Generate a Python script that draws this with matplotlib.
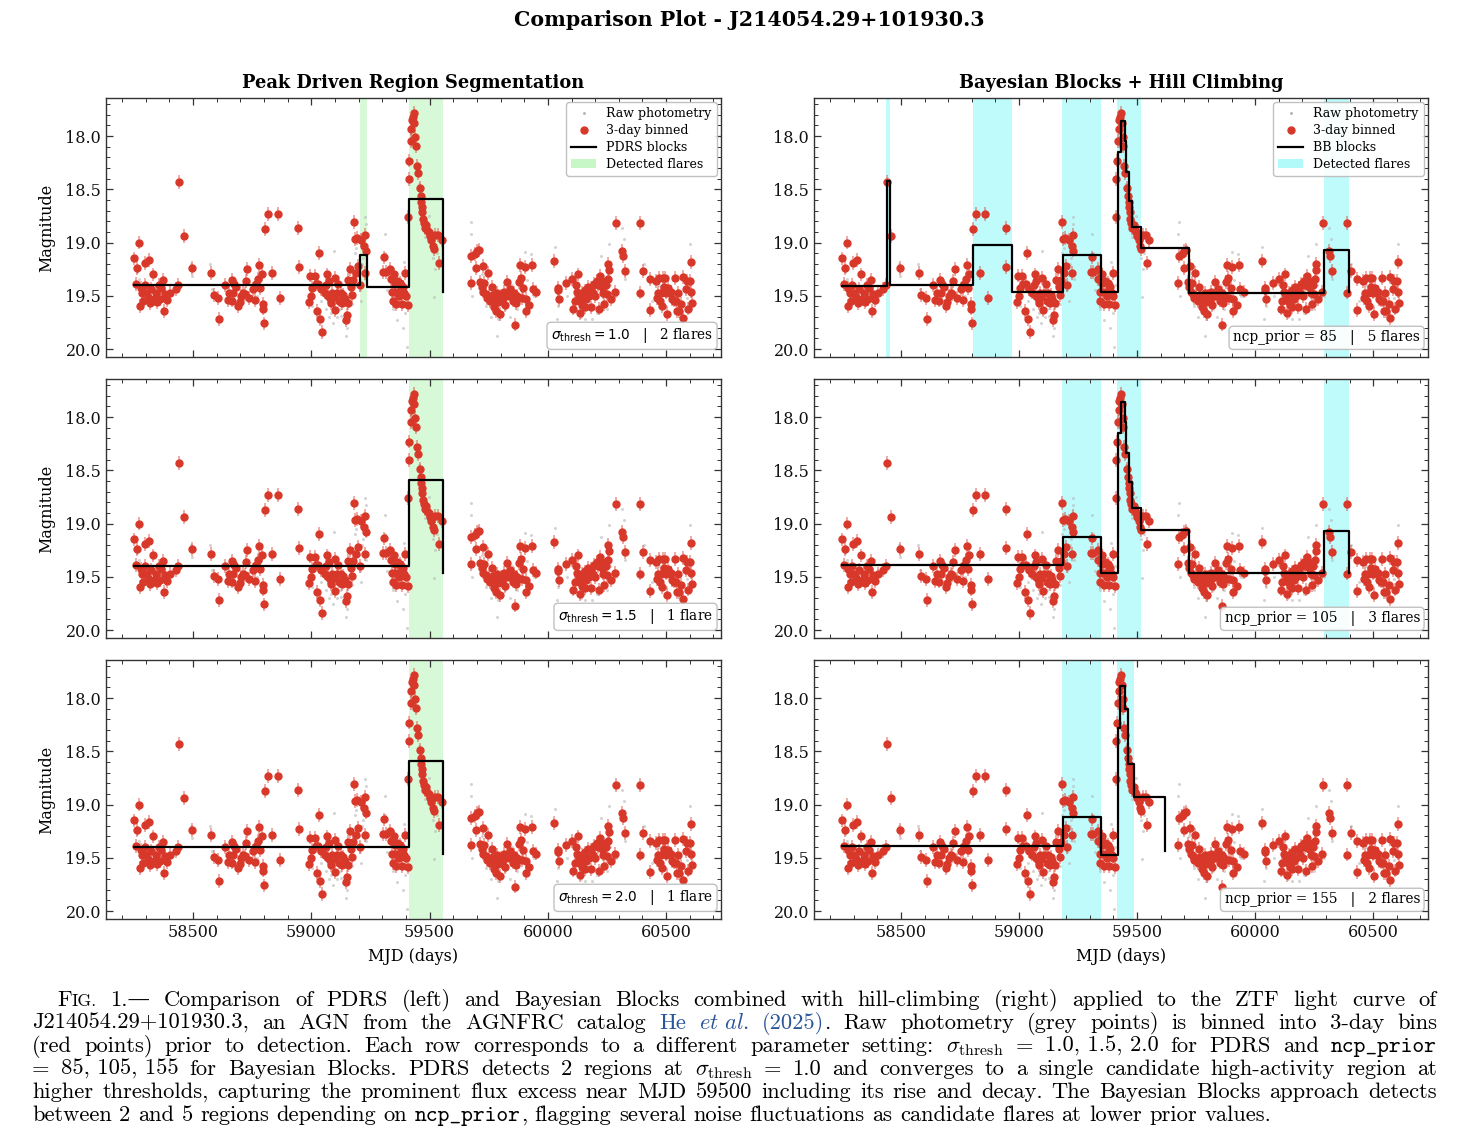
import matplotlib
matplotlib.use('Agg')
import matplotlib.pyplot as plt
from matplotlib.lines import Line2D
from matplotlib.patches import Patch
from matplotlib.ticker import MultipleLocator, FormatStrFormatter

plt.rcParams['font.family'] = ['DejaVu Serif']
plt.rcParams['mathtext.fontset'] = 'dejavusans'

# ---------------- data ----------------
bin_mjd = [58251, 58260, 58263, 58270, 58275, 58278, 58285, 58288, 58295, 58297, 58302, 58309, 58313, 58318,
           58323, 58329, 58337, 58344, 58349, 58356, 58359, 58366, 58373, 58377, 58381, 58391, 58404, 58426,
           58435, 58440, 58460, 58497,
           58577, 58587, 58605, 58611, 58637, 58646, 58654, 58663, 58666, 58671, 58675, 58682, 58689, 58697,
           58704, 58711, 58718, 58722, 58729, 58736, 58753, 58761, 58766, 58774, 58780, 58784, 58790, 58795,
           58796, 58799, 58804,
           58818, 58833, 58858, 58868, 58944, 58947, 58990, 58996, 59000, 59004, 59014, 59018, 59024, 59029,
           59032, 59038, 59042, 59046, 59056, 59063, 59066, 59070, 59074, 59080, 59084, 59088, 59094, 59099,
           59102, 59107, 59113, 59118, 59124, 59130, 59135, 59141, 59146, 59149, 59153, 59157, 59164, 59168,
           59174, 59178, 59181, 59185, 59189, 59195, 59199, 59205, 59210, 59223, 59225, 59227, 59230,
           59303, 59308, 59314, 59333, 59336, 59341, 59344, 59350, 59353, 59355, 59360, 59364, 59368, 59372,
           59376, 59380, 59383, 59387, 59392, 59397, 59400, 59407,
           59410, 59411, 59414, 59420, 59422, 59425, 59429, 59432, 59435, 59439, 59442, 59446, 59449, 59458,
           59462, 59465, 59467, 59469, 59472, 59476, 59480, 59486, 59490, 59497, 59500, 59508, 59514, 59518,
           59525, 59537, 59540, 59551,
           59675, 59676, 59692, 59697, 59699, 59708, 59714, 59720, 59725, 59727, 59731, 59737, 59741, 59745,
           59751, 59756, 59763, 59768, 59773, 59779, 59782, 59786, 59790, 59796, 59800, 59807, 59813, 59818,
           59824, 59828, 59835, 59842, 59846, 59852, 59858, 59861, 59866, 59870, 59877, 59882, 59885, 59890,
           59896, 59903, 59906, 59908, 59922, 59931, 59937, 59951,
           60028, 60041, 60043, 60046, 60077,
           60103, 60108, 60113, 60118, 60122, 60127, 60131, 60135, 60138, 60144, 60146, 60151, 60155, 60158,
           60163, 60169, 60175, 60182, 60184, 60190, 60196, 60201, 60207, 60213, 60215, 60221, 60227, 60230,
           60235, 60239, 60246, 60251, 60254, 60256, 60259, 60268, 60285, 60289, 60314, 60318, 60327,
           60389, 60390, 60404, 60430, 60432, 60456, 60461, 60465, 60470, 60473, 60478, 60482, 60486, 60490,
           60494, 60500, 60504, 60508, 60515, 60520, 60525, 60532, 60537, 60542, 60546, 60551, 60556, 60565,
           60570, 60573, 60582, 60589, 60593, 60599, 60604, 60607, 60608]
bin_mag = [19.15, 19.39, 19.24, 19.00, 19.60, 19.43, 19.47, 19.545, 19.395, 19.19, 19.47, 19.51, 19.165, 19.57,
           19.44, 19.30, 19.53, 19.47, 19.56, 19.40, 19.53, 19.43, 19.35, 19.64, 19.48, 19.54, 19.47, 19.44,
           19.40, 18.43, 18.94, 19.24,
           19.29, 19.49, 19.52, 19.72, 19.40, 19.54, 19.47, 19.545, 19.35, 19.47, 19.39, 19.42, 19.60, 19.555,
           19.50, 19.47, 19.48, 19.36, 19.25, 19.52, 19.44, 19.54, 19.39, 19.34, 19.21, 19.43, 19.30, 19.58,
           19.62, 19.76, 18.87,
           18.73, 19.29, 18.73, 19.52, 18.86, 19.23, 19.56, 19.31, 19.50, 19.43, 19.31, 19.39, 19.64, 19.39,
           19.10, 19.72, 19.44, 19.84, 19.47, 19.40, 19.30, 19.50, 19.36, 19.52, 19.57, 19.47, 19.51, 19.33,
           19.63, 19.47, 19.39, 19.545, 19.47, 19.57, 19.49, 19.53, 19.73, 19.68, 19.57, 19.35, 19.25, 19.42,
           19.49, 19.35, 18.81, 18.97, 19.29, 18.96, 19.22, 19.40, 18.98, 19.03, 19.29, 18.93, 19.075,
           19.28, 19.14, 19.28, 19.25, 19.34, 19.46, 19.55, 19.30, 19.38, 19.46, 19.58, 19.36, 19.46, 19.50,
           19.38, 19.40, 19.58, 19.42, 19.47, 19.29, 19.50, 19.59,
           18.76, 18.40, 18.23, 18.05, 17.93, 17.85, 17.82, 17.78, 17.88, 18.01, 18.09, 18.28, 18.35, 18.49,
           18.56, 18.62, 18.67, 18.71, 18.78, 18.82, 18.86, 18.84, 18.88, 18.90, 18.94, 18.98, 19.03, 19.06,
           18.93, 18.93, 19.19, 18.98,
           19.38, 19.13, 19.11, 19.24, 19.08, 19.07, 19.37, 19.42, 19.22, 19.46, 19.38, 19.48, 19.52, 19.285,
           19.50, 19.55, 19.42, 19.49, 19.61, 19.53, 19.64, 19.47, 19.56, 19.67, 19.50, 19.545, 19.46, 19.59,
           19.50, 19.37, 19.48, 19.44, 19.50, 19.545, 19.47, 19.77, 19.57, 19.50, 19.37, 19.21, 19.33, 19.52,
           19.43, 19.23, 19.53, 19.64, 19.59, 19.21, 19.44, 19.46,
           19.17, 19.45, 19.43, 19.53, 19.38,
           19.34, 19.62, 19.545, 19.40, 19.46, 19.30, 19.50, 19.66, 19.545, 19.47, 19.59, 19.51, 19.61, 19.45,
           19.53, 19.42, 19.50, 19.61, 19.43, 19.47, 19.39, 19.50, 19.36, 19.40, 19.62, 19.31, 19.36, 19.42,
           19.47, 19.58, 19.40, 19.48, 19.34, 19.20, 19.26, 19.53, 19.46, 18.82, 19.075, 19.13, 19.27,
           18.82, 19.47, 19.27, 19.34, 19.63, 19.36, 19.52, 19.47, 19.33, 19.545, 19.47, 19.60, 19.33, 19.42,
           19.33, 19.47, 19.67, 19.43, 19.47, 19.46, 19.53, 19.545, 19.33, 19.545, 19.64, 19.47, 19.64, 19.58,
           19.32, 19.71, 19.44, 19.36, 19.62, 19.36, 19.18, 19.46, 19.57]
bin_err = 0.065

raw_mjd = [58262, 58273, 58300, 58350, 58492, 58495, 58572, 58580, 58700, 58770,
           59005, 59020, 59040, 59060, 59075, 59085, 59092, 59098, 59110, 59120, 59127, 59135, 59145, 59150,
           59160, 59172, 59183, 59190, 59200, 59205, 59212, 59215, 59220, 59227, 59230, 59232, 59310, 59312,
           59320, 59345, 59362, 59375, 59386, 59390, 59395, 59397, 59404, 59408,
           59455, 59470, 59479, 59497, 59505, 59515, 59519, 59525, 59530,
           59675, 59676, 59680, 59706, 59720, 59740, 59760, 59786, 59790, 59800, 59820, 59840, 59850, 59870,
           59880, 59903, 59910, 59928, 59940,
           60029, 60039, 60040, 60045, 60080, 60110, 60125, 60140, 60155, 60170, 60187, 60200, 60208, 60215,
           60223, 60240, 60250, 60258, 60262, 60290, 60314, 60321, 60327, 60406, 60440, 60470, 60500, 60530,
           60560, 60590, 60603]
raw_mag = [19.28, 19.34, 19.52, 19.58, 19.20, 19.31, 19.20, 19.44, 19.60, 19.50,
           19.60, 19.66, 19.55, 19.62, 19.70, 19.66, 19.76, 19.08, 19.70, 19.62, 19.69, 19.74, 19.88, 19.80,
           19.60, 19.58, 19.10, 19.05, 19.30, 19.45, 19.55, 19.20, 19.15, 18.76, 18.83, 19.34, 18.92, 19.10,
           19.45, 19.62, 19.73, 19.60, 19.80, 19.18, 19.30, 19.66, 19.98, 19.40,
           18.45, 18.80, 18.95, 18.75, 19.05, 19.15, 19.51, 19.25, 19.10,
           18.92, 18.81, 19.50, 19.03, 19.30, 19.60, 19.70, 19.88, 19.72, 19.65, 19.62, 19.70, 19.40, 19.62,
           19.55, 19.09, 19.35, 19.11, 19.50,
           19.04, 19.72, 19.81, 19.60, 19.50, 19.40, 19.55, 19.70, 19.72, 19.58, 19.72, 19.35, 19.66, 19.30,
           19.13, 19.45, 19.62, 19.01, 19.40, 19.50, 18.86, 18.97, 19.34, 19.20, 19.55, 19.40, 19.60, 19.50,
           19.58, 19.52, 19.01]

# PDRS blocks (left column), one per sigma_thresh
pdrs_thresh = ["1.0", "1.5", "2.0"]
pdrs_nflares = ["2 flares", "1 flare", "1 flare"]
pdrs_edges = [[58251, 59207, 59235, 59413, 59555],
              [58251, 59413, 59555],
              [58251, 59413, 59555]]
pdrs_vals = [[19.40, 19.12, 19.415, 18.59, 19.46],
             [19.40, 18.59, 19.46],
             [19.40, 18.59, 19.46]]
pdrs_flares = [[(59206, 59235), (59413, 59555)],
               [(59413, 59555)],
               [(59413, 59555)]]

# Bayesian Blocks (right column), one per ncp_prior
bb_prior = ["85", "105", "155"]
bb_nflares = ["5 flares", "3 flares", "2 flares"]
bb_edges = [[58251, 58441, 58452, 58806, 58972, 59186, 59346, 59418, 59430, 59447, 59455, 59466, 59480,
             59518, 59720, 60293, 60397],
            [58251, 59186, 59346, 59418, 59430, 59447, 59455, 59466, 59480, 59518, 59720, 60293, 60397],
            [58251, 59186, 59346, 59418, 59426, 59450, 59460, 59488, 59618]]
bb_vals = [[19.41, 18.42, 19.40, 19.02, 19.46, 19.12, 19.46, 18.15, 17.86, 18.05, 18.34, 18.61, 18.85,
            19.055, 19.47, 19.07, 19.46],
           [19.39, 19.13, 19.465, 18.15, 17.86, 18.05, 18.34, 18.61, 18.85, 19.06, 19.465, 19.07, 19.46],
           [19.39, 19.12, 19.47, 18.28, 17.89, 18.10, 18.62, 18.93, 19.44]]
bb_flares = [[(58437, 58453), (58804, 58972), (59184, 59346), (59416, 59518), (60293, 60397)],
             [(59184, 59346), (59416, 59518), (60293, 60397)],
             [(59184, 59346), (59416, 59488)]]

xticks = [58500, 59000, 59500, 60000, 60500]
yticks = [18.0, 18.5, 19.0, 19.5, 20.0]

# ---------------- style ----------------
RED = '#d8382a'
RAW = '#b8b8b8'
GREEN = '#90ee90'
CYAN = '#00f0f0'

W, H = 1473, 1143
fig = plt.figure(figsize=(W / 100, H / 100), dpi=100)

col_x = [106, 814]
col_w = [615, 614]
row_y = [98, 379, 660]
row_h = 259


def make_ax(r, c):
    x0, w = col_x[c], col_w[c]
    y0 = row_y[r]
    ax = fig.add_axes([x0 / W, 1 - (y0 + row_h) / H, w / W, row_h / H])
    ax.set_xlim(58132, 60732)
    ax.set_ylim(20.075, 17.643)
    ax.set_xticks(xticks)
    ax.set_yticks(yticks)
    ax.xaxis.set_minor_locator(MultipleLocator(100))
    ax.yaxis.set_minor_locator(MultipleLocator(0.1))
    ax.yaxis.set_major_formatter(FormatStrFormatter('%.1f'))
    ax.tick_params(which='both', direction='in', top=True, right=True, colors='#333333',
                   labelcolor='#111111', labelsize=11.5)
    ax.tick_params(which='major', length=5, width=0.9)
    ax.tick_params(which='minor', length=2.8, width=0.7)
    for s in ax.spines.values():
        s.set_color('#333333')
        s.set_linewidth(1.0)
    if r < 2:
        ax.tick_params(labelbottom=False)
    else:
        ax.set_xlabel('MJD (days)', fontsize=11.5, labelpad=5)
    if c == 0:
        ax.set_ylabel('Magnitude', fontsize=11.5, labelpad=7)
    return ax


def draw_data(ax):
    ax.plot(raw_mjd, raw_mag, ls='none', marker='o', ms=2.2, color=RAW, alpha=0.6, mec='none', zorder=2)
    ax.errorbar(bin_mjd, bin_mag, yerr=bin_err, fmt='o', ms=5.0, color=RED, mec=RED,
                ecolor=(0.85, 0.22, 0.16, 0.45), elinewidth=1.3, capsize=0, zorder=3)


for r in range(3):
    # left column: PDRS
    ax = make_ax(r, 0)
    for (a, b) in pdrs_flares[r]:
        ax.axvspan(a, b, color=GREEN, alpha=0.35, lw=0, zorder=1)
    draw_data(ax)
    ax.step(pdrs_edges[r], pdrs_vals[r], where='post', color='black', lw=1.6, zorder=4)
    if r == 0:
        ax.set_title('Peak Driven Region Segmentation', fontsize=12.8, fontweight='bold', pad=7)
        handles = [Line2D([], [], ls='none', marker='o', ms=2.2, color=RAW, mec='none'),
                   Line2D([], [], ls='none', marker='o', ms=5.0, color=RED),
                   Line2D([], [], color='black', lw=1.6),
                   Patch(facecolor=GREEN, alpha=0.5, edgecolor='none')]
        ax.legend(handles, ['Raw photometry', '3-day binned', 'PDRS blocks', 'Detected flares'],
                  loc='upper right', fontsize=9, frameon=True, fancybox=True, framealpha=0.9,
                  edgecolor='#bbbbbb', borderaxespad=0.35, handlelength=2.0, labelspacing=0.3)
    ax.text(0.987, 0.045, r'$\sigma_{\rm thresh} = %s$   |   %s' % (pdrs_thresh[r], pdrs_nflares[r]),
            transform=ax.transAxes, ha='right', va='bottom', fontsize=9.8, zorder=6,
            bbox=dict(boxstyle='round,pad=0.3', fc='white', ec='#bbbbbb', alpha=0.9))

    # right column: Bayesian Blocks
    ax = make_ax(r, 1)
    for (a, b) in bb_flares[r]:
        ax.axvspan(a, b, color=CYAN, alpha=0.25, lw=0, zorder=1)
    draw_data(ax)
    ax.step(bb_edges[r], bb_vals[r], where='post', color='black', lw=1.6, zorder=4)
    if r == 0:
        ax.set_title('Bayesian Blocks + Hill Climbing', fontsize=12.8, fontweight='bold', pad=7)
        handles = [Line2D([], [], ls='none', marker='o', ms=2.2, color=RAW, mec='none'),
                   Line2D([], [], ls='none', marker='o', ms=5.0, color=RED),
                   Line2D([], [], color='black', lw=1.6),
                   Patch(facecolor=CYAN, alpha=0.3, edgecolor='none')]
        ax.legend(handles, ['Raw photometry', '3-day binned', 'BB blocks', 'Detected flares'],
                  loc='upper right', fontsize=9, frameon=True, fancybox=True, framealpha=0.9,
                  edgecolor='#bbbbbb', borderaxespad=0.35, handlelength=2.0, labelspacing=0.3)
    ax.text(0.987, 0.045, 'ncp_prior = %s   |   %s' % (bb_prior[r], bb_nflares[r]),
            transform=ax.transAxes, ha='right', va='bottom', fontsize=9.8, zorder=6,
            bbox=dict(boxstyle='round,pad=0.3', fc='white', ec='#bbbbbb', alpha=0.9))

fig.text(749 / W, 1 - 20 / H, 'Comparison Plot - J214054.29+101930.3', ha='center', va='center',
         fontsize=14.8, fontweight='bold')

# ---------------- caption (justified, LaTeX-like) ----------------
CAP_FS = 16.2
BLUE = '#2a5599'
styles = {
    'rm': dict(family=['cmr10', 'DejaVu Serif'], fontsize=CAP_FS),
    'sc': dict(family=['cmr10', 'DejaVu Serif'], fontsize=CAP_FS * 0.78),
    'tt': dict(family=['cmtt10', 'DejaVu Sans Mono'], fontsize=CAP_FS),
    'math': dict(family=['cmr10', 'DejaVu Serif'], fontsize=CAP_FS, math_fontfamily='cm'),
    'blue': dict(family=['cmr10', 'DejaVu Serif'], fontsize=CAP_FS, color=BLUE),
    'blueit': dict(family=['cmr10', 'DejaVu Serif'], fontsize=CAP_FS, color=BLUE, math_fontfamily='cm'),
}
SIG = r'$\sigma_{\rm thresh}$'
cap_lines = [
    [[('F', 'rm'), ('IG.', 'sc')], '1.—'] +
    'Comparison of PDRS (left) and Bayesian Blocks combined with hill-climbing (right) applied to the ZTF light curve of'.split(),
    'J214054.29+101930.3, an AGN from the AGNFRC catalog'.split() +
    [[('He', 'blue')], [(r'$\mathit{et\ al.}$', 'blueit')], [('(2025)', 'blue'), ('.', 'rm')]] +
    'Raw photometry (grey points) is binned into 3-day bins'.split(),
    '(red points) prior to detection. Each row corresponds to a different parameter setting:'.split() +
    [[(SIG, 'math')], '=', '1.0, 1.5, 2.0', 'for', 'PDRS', 'and', [('ncp_prior', 'tt')]],
    ['=', '85, 105, 155'] + 'for Bayesian Blocks. PDRS detects 2 regions at'.split() +
    [[(SIG, 'math')], '=', '1.0'] + 'and converges to a single candidate high-activity region at'.split(),
    'higher thresholds, capturing the prominent flux excess near MJD 59500 including its rise and decay. The Bayesian Blocks approach detects'.split(),
    'between 2 and 5 regions depending on'.split() + [[('ncp_prior', 'tt'), (',', 'rm')]] +
    'flagging several noise fluctuations as candidate flares at lower prior values.'.split(),
]
baselines = [1006, 1029, 1052, 1075, 1098, 1121]
LEFT, RIGHT, INDENT = 32, 1437, 57

fig.canvas.draw()
rend = fig.canvas.get_renderer()


def seg_width(txt, key):
    t = fig.text(0, 0, txt, **styles[key])
    w = t.get_window_extent(rend).width
    t.remove()
    return w


SPACE = seg_width('a a', 'rm') - 2 * seg_width('a', 'rm')
for li, (line, yb) in enumerate(zip(cap_lines, baselines)):
    words = [[(w, 'rm')] if isinstance(w, str) else w for w in line]
    widths = [[seg_width(t, k) for (t, k) in w] for w in words]
    totals = [sum(ws) for ws in widths]
    x = INDENT if li == 0 else LEFT
    if li < len(cap_lines) - 1:
        gap = (RIGHT - x - sum(totals)) / (len(words) - 1)
    else:
        gap = SPACE
    for w, ws in zip(words, widths):
        xx = x
        for (t, k), sw in zip(w, ws):
            fig.text(xx / W, 1 - yb / H, t, ha='left', va='baseline', **styles[k])
            xx += sw
        x = xx + gap

fig.savefig('out.png', dpi=100)
